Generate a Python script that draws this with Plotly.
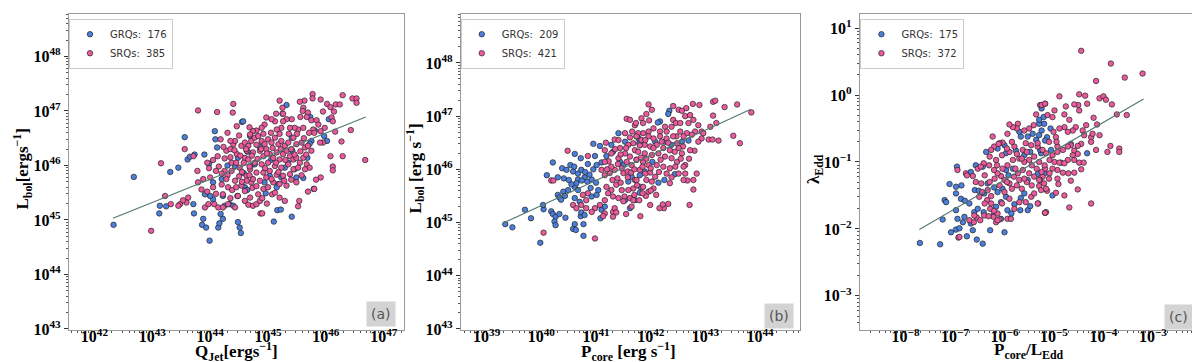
import plotly.graph_objects as go
from plotly.subplots import make_subplots

# values, stored as (log10 x, log10 y)
grq_a = [
    (42.68, 45.79), (42.33, 44.91), (43.13, 45.26), (43.24, 45.25), (43.12, 45.12), (43.31, 45.88),
    (43.45, 45.96), (43.56, 46.52), (43.61, 46.11), (43.65, 46.16), (43.73, 46.20), (43.90, 46.20),
    (43.98, 46.03), (44.08, 46.63), (44.09, 46.48), (44.12, 46.33), (44.55, 46.80), (43.71, 45.29),
    (43.72, 45.12), (43.88, 45.02), (43.86, 44.91), (43.93, 44.86), (43.99, 44.62), (44.14, 44.86),
    (44.16, 44.94), (44.22, 45.02), (44.18, 45.11), (44.25, 45.26), (44.34, 45.29), (44.48, 44.96),
    (44.51, 44.86), (44.53, 44.76), (44.05, 45.38), (44.00, 45.44), (43.91, 45.47), (44.05, 45.69),
    (44.22, 45.44), (44.47, 45.44), (44.40, 45.26), (44.60, 45.60), (44.43, 45.99), (44.48, 46.14),
    (44.58, 45.86), (45.32, 47.11), (45.25, 46.95), (45.73, 46.89), (45.81, 46.64), (45.97, 46.54),
    (45.75, 46.45), (45.72, 46.40), (45.68, 46.14), (45.61, 45.77), (45.79, 45.57), (45.42, 46.27),
    (45.41, 46.51), (45.49, 45.78), (45.18, 45.66), (45.15, 45.60), (44.96, 45.49), (44.94, 45.69),
    (44.64, 45.55), (45.16, 45.18), (45.22, 45.19), (45.41, 45.06), (45.10, 44.97), (44.69, 46.54),
    (44.57, 46.81), (44.74, 46.02), (45.29, 45.96), (45.35, 46.05), (45.46, 45.93), (44.77, 46.02),
    (45.03, 45.81), (45.23, 45.78), (46.05, 46.85), (46.02, 46.45), (44.30, 46.00), (44.65, 46.25),
    (44.85, 46.35), (45.05, 46.10), (44.20, 45.75),
]
srq_a = [
    (43.79, 47.01), (43.15, 46.04), (43.22, 45.44), (42.98, 44.80), (43.56, 46.30), (44.40, 47.13),
    (44.12, 46.98), (44.39, 46.97), (44.46, 46.72), (43.78, 45.90), (43.79, 45.69), (43.71, 46.17),
    (43.85, 45.56), (43.62, 45.41), (43.59, 45.32), (43.48, 45.29), (43.53, 45.36), (43.45, 45.26),
    (43.91, 45.23), (43.97, 45.29), (44.07, 45.29), (44.14, 45.23), (44.00, 45.78), (44.05, 45.60),
    (44.22, 45.47), (44.20, 45.65), (44.31, 45.60), (44.22, 45.23), (44.31, 45.29), (44.13, 46.17),
    (44.25, 46.13), (44.28, 46.27), (44.37, 46.05), (44.23, 46.34), (44.18, 46.48), (44.40, 46.39),
    (44.43, 46.45), (44.46, 46.21), (44.54, 46.36), (44.60, 46.14), (44.51, 45.96), (44.37, 45.90),
    (44.25, 45.90), (44.43, 45.72), (44.54, 45.63), (44.60, 45.53), (44.48, 45.44), (44.60, 45.35),
    (44.43, 45.23), (44.66, 45.28), (44.87, 45.12), (43.32, 45.29),
    (45.77, 47.31), (45.77, 47.23), (46.29, 47.29), (46.46, 47.23), (46.53, 47.23), (46.53, 47.15),
    (45.91, 47.21), (45.63, 47.19), (45.55, 47.17), (45.20, 47.19), (45.25, 47.06), (46.02, 47.13),
    (46.17, 47.12), (46.24, 47.12), (46.08, 47.07), (46.14, 46.99), (45.95, 46.99), (46.10, 46.88),
    (46.12, 46.81), (45.61, 47.06), (45.60, 47.00), (45.69, 46.97), (45.56, 46.89), (45.67, 46.89),
    (45.75, 46.83), (45.84, 46.83), (45.87, 46.75), (45.78, 46.66), (45.98, 46.69), (46.16, 46.62),
    (46.43, 46.65), (45.91, 46.63), (45.80, 46.60), (45.71, 46.60), (45.61, 46.69), (45.52, 46.66),
    (45.46, 46.69), (45.38, 46.69), (45.41, 46.85), (45.32, 46.85), (45.26, 46.81), (45.23, 46.69),
    (45.15, 46.66), (45.12, 46.81), (45.06, 46.85), (44.97, 46.88), (44.94, 46.75), (44.89, 46.69),
    (44.80, 46.64), (44.74, 46.63), (44.69, 46.57), (45.26, 46.95), (45.14, 46.95), (46.27, 46.44),
    (45.95, 46.42), (45.90, 46.42), (46.08, 46.17), (46.29, 46.17), (46.68, 46.10), (46.12, 45.98),
    (46.12, 45.91), (45.91, 45.78), (45.83, 45.74), (45.80, 45.57), (45.69, 45.52), (45.54, 45.35),
    (45.52, 45.25), (45.29, 45.35), (45.20, 45.41), (45.07, 45.47), (44.90, 45.12), (44.74, 45.26),
    (44.69, 45.41), (44.80, 45.29), (44.86, 45.35), (44.73, 45.59), (44.83, 45.47), (44.71, 45.69),
    (44.92, 45.57), (44.63, 45.81),
    (44.60, 46.42), (44.66, 46.36), (44.71, 46.45), (44.77, 46.51), (44.83, 46.54), (44.89, 46.45),
    (44.94, 46.39), (45.00, 46.48), (45.06, 46.42), (45.12, 46.51), (45.18, 46.39), (45.23, 46.45),
    (45.29, 46.36), (45.35, 46.42), (45.44, 46.51), (45.49, 46.39), (45.58, 46.42), (45.64, 46.33),
    (45.69, 46.36), (45.75, 46.27), (44.63, 46.27), (44.74, 46.24), (44.86, 46.27), (44.92, 46.17),
    (44.97, 46.30), (45.03, 46.21), (45.09, 46.14), (45.15, 46.24), (45.20, 46.11), (45.26, 46.21),
    (45.32, 46.27), (45.38, 46.17), (45.44, 46.11), (45.49, 46.14), (45.55, 46.05), (45.61, 46.14),
    (45.67, 46.02), (45.72, 45.96), (44.66, 46.11), (44.77, 46.05), (44.89, 46.02), (45.00, 46.05),
    (45.12, 45.99), (45.23, 45.96), (45.35, 46.02), (45.44, 45.93), (45.52, 45.96), (45.64, 45.93),
    (44.69, 45.93), (44.80, 45.87), (44.92, 45.87), (45.03, 45.90), (45.15, 45.83), (45.26, 45.81),
    (45.38, 45.84), (44.63, 45.72), (44.74, 45.75), (44.86, 45.72), (44.97, 45.78), (45.09, 45.69),
    (45.20, 45.66), (45.32, 45.63), (45.49, 45.69),
    (43.95, 46.05), (44.05, 46.10), (44.15, 45.98), (44.30, 45.82), (44.35, 46.15), (44.45, 46.05),
    (44.50, 45.80), (44.20, 45.85), (44.10, 45.90), (43.98, 45.95), (43.88, 45.75), (43.95, 45.52),
    (44.10, 45.48), (44.28, 45.75), (44.38, 45.55), (44.55, 45.70), (44.35, 46.30), (44.50, 46.55),
    (44.30, 46.60), (44.62, 46.30),
    (44.35, 46.45), (44.42, 46.28), (44.52, 46.18), (44.58, 46.05), (44.68, 45.98), (44.72, 46.18),
    (44.82, 46.12), (44.88, 46.30), (44.98, 46.22), (45.08, 46.32), (45.14, 46.05), (45.22, 46.30),
    (45.30, 46.10), (45.40, 46.30), (45.46, 46.20), (45.56, 46.26), (45.62, 46.50), (45.50, 46.58),
    (45.36, 46.58), (45.20, 46.58), (45.05, 46.60), (44.92, 46.58), (44.80, 46.38), (44.68, 46.70),
    (44.55, 45.88), (44.68, 45.82), (44.80, 45.62), (44.95, 45.95), (45.06, 45.75), (45.18, 45.88),
    (45.28, 45.72), (45.40, 45.74), (45.58, 45.82), (45.66, 46.20), (44.45, 45.60), (44.35, 45.40),
    (44.90, 45.40), (45.00, 45.60), (44.98, 45.30), (45.12, 45.50),
]

grq_b = [
    (39.34, 44.97), (39.47, 44.91), (39.70, 45.24), (39.81, 45.08), (40.04, 45.25), (40.03, 45.33),
    (40.21, 46.13), (40.10, 45.89), (40.30, 45.85), (40.41, 45.83), (40.38, 46.02), (40.46, 45.99),
    (40.53, 46.08), (40.61, 46.29), (40.72, 46.21), (40.18, 45.21), (40.21, 45.16), (40.26, 45.11),
    (40.33, 45.16), (40.44, 45.09), (40.24, 45.02), (40.26, 44.95), (39.98, 44.62), (40.61, 44.97),
    (40.58, 44.88), (40.63, 44.86), (40.77, 44.75), (40.77, 44.97), (40.72, 45.12), (40.73, 45.19),
    (40.79, 45.14), (40.95, 46.48), (41.07, 46.44), (40.98, 46.25), (40.61, 45.67), (40.67, 45.61),
    (40.58, 45.96), (40.67, 45.92), (40.73, 45.99), (40.79, 45.85), (40.84, 45.77), (40.92, 45.81),
    (40.67, 45.81), (40.74, 45.79), (40.64, 45.74), (40.40, 45.58), (40.49, 45.61), (40.30, 45.52),
    (40.43, 45.50), (40.33, 45.47), (40.36, 45.43), (40.61, 45.46), (40.70, 45.39), (40.92, 45.49),
    (41.01, 45.52), (41.04, 45.61), (40.95, 46.00), (41.01, 46.08), (41.10, 46.13), (41.19, 46.25),
    (41.28, 46.46), (41.41, 46.68), (41.53, 46.52), (41.31, 46.33), (41.10, 45.24), (41.16, 45.30),
    (41.08, 45.08), (41.53, 45.42), (41.62, 45.27), (41.71, 45.42), (41.59, 45.77), (41.65, 45.86),
    (41.44, 46.14), (41.50, 46.08), (42.17, 46.90), (42.13, 46.88), (42.34, 47.10), (42.32, 47.04),
    (42.26, 46.52), (42.08, 46.52), (41.78, 46.58), (41.79, 46.49), (42.38, 46.46), (42.57, 46.52),
    (42.03, 46.14), (41.89, 45.96), (41.80, 45.89), (42.25, 45.80), (42.14, 45.75), (42.44, 45.91),
    (41.81, 45.67), (41.80, 45.56), (42.69, 46.54), (40.88, 45.90), (40.55, 45.72), (40.85, 46.10),
    (40.90, 45.65), (41.00, 45.75), (40.80, 45.95), (40.50, 45.80), (40.60, 46.05),
]
srq_b = [
    (40.48, 46.35), (40.18, 45.79), (40.04, 44.81), (40.98, 44.70), (41.31, 45.20), (40.22, 45.79),
    (40.85, 46.25), (41.16, 46.36), (41.18, 46.50), (41.34, 46.56), (41.56, 46.95), (41.62, 46.93),
    (41.71, 46.83), (41.66, 46.71), (41.74, 46.62), (41.53, 46.68), (41.44, 46.40), (41.28, 46.30),
    (41.23, 46.15), (41.10, 45.99), (41.16, 45.89), (41.25, 45.93), (41.34, 45.99), (41.39, 45.83),
    (41.50, 45.93), (41.58, 45.96), (41.64, 45.94), (41.71, 45.80), (41.68, 45.64), (41.59, 45.61),
    (41.47, 45.61), (41.37, 45.71), (41.28, 45.61), (41.19, 45.67), (41.22, 45.55), (41.31, 45.49),
    (41.41, 45.46), (41.52, 45.49), (41.62, 45.46), (41.70, 45.52), (41.16, 45.42), (41.07, 45.33),
    (40.98, 45.27), (40.92, 45.20), (40.82, 45.27), (40.73, 45.33), (40.82, 45.42), (40.85, 45.55),
    (40.76, 45.52), (40.58, 45.33), (40.64, 45.27), (41.16, 45.17), (41.13, 45.12), (41.34, 45.27),
    (41.37, 45.19), (41.31, 45.11), (41.55, 45.16), (41.16, 46.14), (41.28, 46.05), (41.41, 46.21),
    (41.53, 46.30), (41.62, 46.24), (41.71, 46.36), (41.56, 46.14), (41.65, 46.08), (41.74, 46.18),
    (41.47, 46.02), (41.68, 46.49), (41.59, 46.46), (41.41, 46.55),
    (41.96, 47.22), (42.02, 47.12), (41.92, 47.04), (41.83, 46.96), (41.73, 46.87), (41.86, 46.87),
    (41.97, 46.92), (42.41, 47.19), (42.65, 47.15), (42.77, 47.23), (42.89, 47.21), (43.14, 47.27),
    (43.18, 47.29), (43.35, 47.17), (43.58, 47.22), (43.84, 47.07), (42.51, 47.12), (42.57, 47.10),
    (42.63, 47.00), (42.72, 47.02), (42.78, 46.93), (42.69, 46.87), (42.41, 46.93), (42.46, 46.87),
    (42.54, 46.87), (42.38, 46.80), (42.26, 46.80), (42.29, 46.71), (42.17, 46.71), (42.05, 46.77),
    (41.96, 46.71), (41.86, 46.68), (41.77, 46.68), (43.14, 47.01), (43.20, 46.87), (43.09, 46.80),
    (42.87, 46.83), (42.93, 46.71), (42.81, 46.71), (42.75, 46.65), (42.66, 46.68), (42.54, 46.71),
    (42.60, 46.62), (42.47, 46.62), (42.93, 46.58), (42.87, 46.52), (42.96, 46.68), (43.06, 46.56),
    (43.13, 46.56), (43.24, 46.54), (43.51, 46.63), (43.63, 46.49), (42.80, 46.35), (42.72, 46.36),
    (42.59, 46.43), (42.51, 46.40), (42.48, 46.49), (42.57, 46.30), (42.63, 46.08), (42.60, 46.05),
    (42.51, 45.92), (42.63, 45.92), (42.84, 45.92), (42.78, 45.80), (42.67, 45.79), (42.60, 45.80),
    (42.35, 45.74), (42.78, 45.62), (42.71, 45.33), (42.32, 45.35), (42.24, 45.27), (42.16, 45.27),
    (42.22, 45.34), (42.10, 45.52), (41.99, 45.33), (41.91, 45.50), (41.81, 45.12), (41.68, 45.42),
    (41.79, 45.42),
    (41.74, 46.62), (41.83, 46.55), (41.96, 46.62), (42.05, 46.58), (42.17, 46.62), (42.29, 46.58),
    (42.41, 46.62), (41.89, 46.46), (41.99, 46.43), (42.11, 46.46), (42.23, 46.40), (42.35, 46.36),
    (42.44, 46.33), (41.77, 46.33), (41.89, 46.30), (42.02, 46.27), (42.14, 46.30), (42.26, 46.24),
    (42.38, 46.21), (42.48, 46.14), (41.74, 46.18), (41.86, 46.14), (41.96, 46.08), (42.11, 46.08),
    (42.23, 46.05), (42.35, 46.02), (41.80, 45.99), (41.99, 45.94), (42.08, 45.86), (42.29, 45.92),
    (42.38, 45.85), (41.92, 45.80), (41.74, 45.80), (42.02, 45.77), (41.86, 45.67), (42.05, 45.64),
    (41.96, 45.58),
    (41.35, 46.38), (41.45, 46.28), (41.55, 46.40), (41.62, 46.60), (41.80, 46.45), (41.90, 46.55),
    (41.82, 46.22), (41.92, 46.20), (42.05, 46.40), (42.18, 46.18), (42.32, 46.50), (42.20, 46.52),
    (41.70, 46.00), (41.85, 46.05), (42.00, 46.02), (42.15, 45.95), (41.58, 45.85), (41.45, 45.75),
    (41.30, 45.80), (41.20, 46.00), (41.40, 46.10), (41.75, 45.70), (41.90, 45.92), (42.45, 46.05),
    (42.55, 46.20), (42.70, 46.20), (41.50, 45.40), (41.65, 45.30), (41.85, 45.55), (42.00, 45.60),
]

grq_c = [
    (-7.71, -2.21), (-7.30, -2.23), (-7.08, -2.05), (-6.98, -2.01), (-6.91, -1.99), (-6.76, -2.11),
    (-6.56, -2.16), (-6.44, -2.22), (-6.29, -2.02), (-6.00, -2.05), (-7.25, -1.86), (-7.21, -1.57),
    (-7.18, -1.60), (-6.98, -1.72), (-6.95, -1.85), (-6.81, -1.82), (-6.84, -1.90), (-6.68, -1.92),
    (-6.64, -2.02), (-7.11, -1.33), (-6.98, -1.37), (-6.87, -1.35), (-6.98, -1.47), (-6.88, -1.55),
    (-6.80, -1.58), (-6.71, -1.62), (-6.61, -1.75), (-6.54, -1.70), (-6.42, -1.75), (-6.96, -1.07),
    (-6.68, -1.15), (-6.58, -1.05), (-6.44, -1.07), (-6.37, -0.85), (-6.60, -1.42), (-6.52, -1.43),
    (-6.41, -1.47), (-6.34, -1.32), (-6.21, -1.38), (-6.14, -1.45), (-6.04, -1.40), (-5.97, -1.52),
    (-6.07, -1.60), (-6.17, -1.67), (-6.21, -1.77), (-6.07, -1.85), (-5.94, -1.72), (-5.86, -1.77),
    (-5.80, -1.63), (-6.14, -0.80), (-6.00, -0.75), (-5.97, -0.87), (-5.77, -0.83), (-5.70, -0.55),
    (-5.67, -0.62), (-5.53, -0.62), (-5.43, -0.58), (-5.30, -0.60), (-5.36, -0.67), (-5.48, -0.85),
    (-5.60, -0.90), (-5.53, -1.27), (-5.60, -1.47), (-5.67, -1.54), (-5.68, -1.72), (-5.53, -1.72),
    (-5.48, -1.66), (-5.92, -1.20), (-5.83, -1.10), (-5.97, -1.12), (-5.26, -0.87), (-5.19, -1.17),
    (-5.21, -0.33), (-5.30, -0.43), (-5.25, -0.20), (-5.30, -0.37), (-5.20, -0.43), (-5.25, -0.53),
    (-5.07, -0.50), (-5.14, -0.63), (-5.18, -0.68), (-5.28, -0.82), (-5.06, -0.82), (-4.86, -1.01),
    (-5.33, -1.18), (-5.03, -1.50), (-4.33, -0.87), (-4.66, -0.73),
]
srq_c = [
    (-4.45, 0.66), (-3.85, 0.47), (-3.21, 0.32), (-3.57, 0.26), (-4.15, 0.21), (-4.89, -0.02),
    (-4.49, 0.01), (-4.37, -0.01), (-4.08, -0.05), (-4.00, -0.02), (-3.95, -0.07), (-3.83, -0.14),
    (-4.33, -0.13), (-4.51, -0.15), (-4.59, -0.14), (-4.76, -0.17), (-4.49, -0.23), (-4.69, -0.37),
    (-4.79, -0.29), (-4.99, -0.23), (-5.18, -0.13), (-5.28, -0.15), (-5.13, -0.30), (-5.03, -0.33),
    (-4.20, -0.34), (-3.73, -0.29), (-3.53, -0.30), (-4.13, -0.44), (-4.35, -0.45), (-4.42, -0.53),
    (-4.56, -0.48), (-4.62, -0.53), (-4.72, -0.55), (-4.79, -0.48), (-4.89, -0.50), (-5.01, -0.55),
    (-4.96, -0.63), (-4.39, -0.60), (-4.25, -0.63), (-4.22, -0.58), (-4.08, -0.60), (-4.25, -0.70),
    (-4.45, -0.73), (-4.52, -0.76), (-4.66, -0.75), (-4.72, -0.77), (-4.82, -0.82), (-4.93, -0.77),
    (-4.59, -0.83), (-4.52, -0.88), (-4.62, -0.90), (-4.72, -0.97), (-4.93, -0.85), (-5.03, -0.90),
    (-5.16, -0.87), (-5.09, -0.97), (-4.99, -1.00), (-4.89, -1.01), (-4.79, -1.02), (-4.59, -0.97),
    (-4.49, -1.01), (-4.40, -1.01), (-4.15, -0.82), (-3.92, -0.85), (-3.86, -0.76), (-3.68, -0.80),
    (-3.68, -0.85), (-4.45, -1.11), (-4.59, -1.16), (-4.71, -1.17), (-4.82, -1.16), (-4.93, -1.12),
    (-5.03, -1.10), (-5.09, -1.17), (-5.18, -1.10), (-5.23, -1.22), (-5.28, -1.27), (-5.20, -1.32),
    (-4.93, -1.25), (-4.91, -1.33), (-4.66, -1.28), (-4.52, -1.41), (-4.79, -1.50), (-4.96, -1.46),
    (-5.14, -1.43), (-5.30, -1.36), (-4.69, -1.68), (-4.25, -1.62), (-5.32, -1.62), (-5.18, -1.76),
    (-5.33, -0.77),
    (-5.25, -0.15), (-5.18, -0.13), (-5.36, -0.29), (-5.41, -0.45), (-5.50, -0.50), (-5.60, -0.53),
    (-5.73, -0.43), (-5.75, -0.50), (-5.83, -0.48), (-5.94, -0.58), (-6.04, -0.71), (-6.10, -0.72),
    (-6.21, -0.77), (-6.27, -0.82), (-6.31, -1.05), (-6.42, -1.02), (-6.54, -1.10), (-6.78, -1.17),
    (-6.95, -1.12), (-6.64, -1.21), (-6.58, -1.30), (-6.47, -1.32), (-6.34, -1.42), (-6.27, -1.51),
    (-6.51, -1.52), (-6.35, -1.57), (-6.27, -1.62), (-6.29, -1.70), (-6.22, -1.82), (-6.17, -1.90),
    (-6.14, -1.77), (-5.94, -1.85), (-5.87, -1.85), (-6.10, -1.86), (-5.80, -1.70), (-5.70, -1.60),
    (-5.57, -1.60), (-5.46, -1.52), (-5.33, -1.62), (-5.16, -1.75), (-5.40, -1.47), (-5.26, -1.42),
    (-5.16, -1.40), (-5.30, -1.27), (-5.40, -1.22), (-5.50, -1.17), (-5.63, -1.12), (-5.73, -1.17),
    (-5.81, -1.22), (-5.70, -1.27), (-5.90, -1.32), (-6.00, -1.27), (-6.07, -1.21), (-6.14, -1.17),
    (-6.21, -1.12), (-6.04, -1.10), (-5.94, -1.05), (-5.83, -0.97), (-5.70, -0.95), (-5.60, -1.00),
    (-5.50, -0.97), (-5.40, -0.92), (-5.30, -1.00), (-5.19, -1.05), (-5.23, -0.82), (-5.33, -0.72),
    (-5.46, -0.75), (-5.57, -0.72), (-5.63, -0.82), (-5.80, -0.77), (-5.90, -0.85), (-5.78, -1.10),
    (-6.56, -1.83), (-6.49, -1.87), (-6.62, -1.90), (-6.93, -2.13), (-6.41, -1.80), (-6.91, -2.12),
    (-6.71, -1.87), (-6.61, -1.80), (-6.32, -1.81), (-6.76, -1.20), (-6.48, -1.07), (-6.17, -0.97),
    (-6.12, -0.73), (-6.24, -0.62), (-5.90, -0.44), (-6.21, -1.73), (-5.18, -1.76), (-6.14, -1.87),
    (-6.40, -1.20), (-6.30, -1.30), (-6.20, -1.25), (-6.10, -1.35), (-6.00, -1.45), (-5.95, -1.30),
    (-5.85, -1.40), (-5.75, -1.35), (-5.65, -1.40), (-5.55, -1.30), (-5.45, -1.35), (-5.35, -1.10),
    (-5.45, -1.05), (-5.55, -0.85), (-5.65, -0.95), (-5.75, -0.88), (-5.85, -0.70), (-5.95, -0.80),
    (-6.05, -0.90), (-6.15, -1.05), (-6.30, -0.92), (-6.45, -1.45), (-6.40, -1.62), (-6.05, -1.62),
    (-5.90, -1.55), (-5.60, -1.25), (-5.25, -1.15), (-5.10, -1.25), (-5.10, -0.70), (-4.95, -0.70),
]

# fitted lines (log10 end points)
fit_a = ([42.32, 46.69], [45.03, 46.89])
fit_b = ([39.30, 43.83], [44.99, 47.13])
fit_c = ([-7.72, -3.19], [-2.01, -0.06])

counts_grq = [176, 209, 175]
counts_srq = [385, 421, 372]
tags = ["(a)", "(b)", "(c)"]

BLUE = "#4a7fdc"
PINK = "#ec5a9e"
FIT = "#557a72"
SERIF = "Liberation Serif"

fig = make_subplots(rows=1, cols=3)

panels = [(grq_a, srq_a, fit_a), (grq_b, srq_b, fit_b), (grq_c, srq_c, fit_c)]
legend_ids = ["legend", "legend2", "legend3"]
for i, (g, s, f) in enumerate(panels):
    col = i + 1
    fig.add_trace(go.Scatter(
        x=[10.0 ** p[0] for p in g], y=[10.0 ** p[1] for p in g], mode="markers",
        name=f"GRQs:  {counts_grq[i]}", legend=legend_ids[i],
        marker=dict(size=5.5, color=BLUE, line=dict(width=0.7, color="#222"))), row=1, col=col)
    fig.add_trace(go.Scatter(
        x=[10.0 ** p[0] for p in s], y=[10.0 ** p[1] for p in s], mode="markers",
        name=f"SRQs:  {counts_srq[i]}", legend=legend_ids[i],
        marker=dict(size=5.5, color=PINK, line=dict(width=0.7, color="#222"))), row=1, col=col)
    fig.add_trace(go.Scatter(
        x=[10.0 ** v for v in f[0]], y=[10.0 ** v for v in f[1]], mode="lines",
        line=dict(color=FIT, width=1.2), showlegend=False), row=1, col=col)

x_ranges = [[41.56, 47.35], [38.53, 44.73], [-8.92, -2.09]]
y_ranges = [[42.98, 48.78], [42.98, 48.92], [-3.51, 1.21]]
x_ticks = [range(41, 48), range(38, 45), range(-9, -1)]
y_ticks = [range(42, 49), range(42, 49), range(-4, 2)]
domains = [[0.0, 0.2967], [0.3472, 0.6475], [0.7006, 1.0]]


def sup(n):
    return "10<sup>" + (str(n) if n >= 0 else "\u2212" + str(-n)) + "</sup>"


def minor_vals(decades):
    return [k * 10.0 ** n for n in decades for k in range(2, 10)]


axis_common = dict(
    type="log", showgrid=False, zeroline=False, showline=True, mirror=True,
    linecolor="#9a9a9a", linewidth=1.3, ticks="outside", ticklen=4, tickcolor="#333",
    tickfont=dict(family=SERIF, size=16, color="black", weight="bold"),
)
for i in range(3):
    xt, yt = x_ticks[i], y_ticks[i]
    fig.update_xaxes(axis_common, range=x_ranges[i], domain=domains[i],
                     tickvals=[10.0 ** n for n in xt], ticktext=[sup(n) for n in xt],
                     ticklabelstandoff=-12,
                     minor=dict(tickmode="array", tickvals=minor_vals(xt), ticks="outside",
                                ticklen=2, tickcolor="#555", showgrid=False),
                     row=1, col=i + 1)
    fig.update_yaxes(axis_common, range=y_ranges[i],
                     tickvals=[10.0 ** n for n in yt], ticktext=[sup(n) for n in yt],
                     minor=dict(tickmode="array", tickvals=minor_vals(yt), ticks="outside",
                                ticklen=2, tickcolor="#555", showgrid=False),
                     row=1, col=i + 1)

legend_x = [0.0, 0.347, 0.701]
legend_style = dict(
    y=0.985, xanchor="left", yanchor="top", bgcolor="white", bordercolor="#cccccc",
    borderwidth=1, font=dict(family="DejaVu Sans", size=10, color="#333"), tracegroupgap=0,
)
fig.update_layout(
    legend=dict(legend_style, x=legend_x[0]),
    legend2=dict(legend_style, x=legend_x[1]),
    legend3=dict(legend_style, x=legend_x[2]),
)

title_font = dict(family=SERIF, size=17, color="black")
x_titles = ["<b>Q<sub>Jet</sub>[ergs<sup>\u22121</sup>]</b>",
            "<b>P<sub>core</sub> [erg s<sup>\u22121</sup>]</b>",
            "<b>P<sub>core</sub>/L<sub>Edd</sub></b>"]
y_titles = ["<b>L<sub>bol</sub>[ergs<sup>\u22121</sup>]</b>",
            "<b>L<sub>bol</sub> [erg s<sup>\u22121</sup>]</b>",
            "<b>\u03bb<sub>Edd</sub></b>"]
x_title_pos = [0.148, 0.496, 0.850]
y_title_pos = [-0.041, 0.307, 0.661]
tag_pos = [(0.276, 0.05), (0.629, 0.045), (0.983, 0.04)]

annotations = []
for i in range(3):
    annotations.append(dict(text=x_titles[i], x=x_title_pos[i], y=-0.068, xref="paper", yref="paper",
                            showarrow=False, font=title_font, xanchor="center", yanchor="middle"))
    annotations.append(dict(text=y_titles[i], x=y_title_pos[i], y=0.51, xref="paper", yref="paper",
                            showarrow=False, font=title_font, textangle=-90,
                            xanchor="center", yanchor="middle"))
    annotations.append(dict(text=tags[i], x=tag_pos[i][0], y=tag_pos[i][1], xref="paper", yref="paper",
                            showarrow=False, bgcolor="#d3d3d3", borderpad=4,
                            font=dict(family="DejaVu Sans", size=14, color="#555"),
                            xanchor="center", yanchor="middle"))

fig.update_layout(
    width=1200, height=362, margin=dict(l=61, r=10, t=6, b=40),
    paper_bgcolor="white", plot_bgcolor="white", annotations=annotations,
)

fig.write_html("out.html")
